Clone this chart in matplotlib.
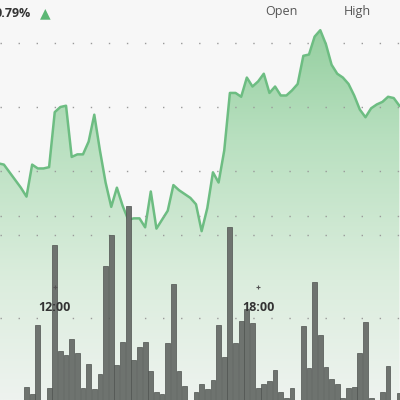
import numpy as np
import matplotlib
matplotlib.use("Agg")
import matplotlib.pyplot as plt
from matplotlib.colors import LinearSegmentedColormap
from matplotlib.patches import PathPatch
from matplotlib.transforms import blended_transform_factory

# ---- data ----
price_start_hour = 10 + 20 / 60      # first price point 10:20, 10-minute steps
price = [100.56, 100.55, 100.49, 100.43, 100.37, 100.30, 100.55, 100.52, 100.52, 100.53,
         100.96, 101.00, 101.01, 100.61, 100.63, 100.63, 100.73, 100.94, 100.66, 100.41,
         100.22, 100.37, 100.23, 100.12, 100.13, 100.13, 100.06, 100.34, 100.05, 100.12,
         100.19, 100.39, 100.35, 100.32, 100.29, 100.24, 100.03, 100.21, 100.49, 100.41,
         100.66, 101.11, 101.11, 101.08, 101.23, 101.16, 101.20, 101.26, 101.11, 101.16,
         101.09, 101.09, 101.13, 101.18, 101.40, 101.41, 101.55, 101.60, 101.49, 101.33,
         101.26, 101.23, 101.18, 101.09, 100.98, 100.92, 100.99, 101.02, 101.04, 101.08,
         101.07, 101.01]
vol_start_hour = 11 + 10 / 60        # first volume bar 11:10, 10-minute steps
volume = [16.2, 12.7, 46.6, 7, 15.7, 85.8, 33.8, 31.9, 39.7, 32.8,
          15.7, 27.5, 15.2, 22.5, 75.5, 90.7, 27.0, 38.2, 104.9, 29.4,
          35.8, 38.2, 24.0, 13.7, 12.7, 37.7, 66.7, 24.0, 16.7, 7,
          13.7, 17.6, 15.2, 19.6, 46.6, 30.9, 94.6, 37.7, 48.5, 54.4,
          47.5, 15.7, 17.6, 19.1, 24.5, 13.7, 10.8, 15.7, 7, 46.1,
          25.5, 67.6, 41.7, 26.0, 20.1, 17.6, 10.8, 15.7, 16.2, 32.8,
          48.0, 10.8, 7, 13.7, 26.5, 7, 13.2]
price_grid = [100.0, 100.5, 101.0, 101.5]
vol_grid = [50, 100]
time_ticks = [12.0, 18.0]
time_labels = ["12:00", "18:00"]
change_text = "0.79%"
header_labels = ["Open", "High"]

t_price = price_start_hour + np.arange(len(price)) / 6
t_vol = vol_start_hour + np.arange(len(volume)) / 6

# ---- figure ----
bg = "#f7f7f7"
fig = plt.figure(figsize=(4, 4), dpi=100, facecolor=bg)
ax = fig.add_axes([0, 0, 1, 1])
ax.set_facecolor(bg)
xmin, xmax = 10.385, 22.185
ylo, yhi = 98.711, 101.836
ax.set_xlim(xmin, xmax)
ax.set_ylim(ylo, yhi)
ax.axis("off")

# gradient area
cmap = LinearSegmentedColormap.from_list(
    "g", [(0.0, "#8ccb98"), (0.35, "#b9e0c0"), (0.7, "#dbeddd"), (1.0, "#eef3ef")])
grad = np.linspace(0, 1, 256).reshape(-1, 1)
im = ax.imshow(grad, cmap=cmap, extent=[xmin, xmax, ylo, yhi], origin="upper",
               aspect="auto", zorder=1, interpolation="bilinear")
poly = ax.fill_between(t_price, price, ylo, color="none", lw=0)
patch = PathPatch(poly.get_paths()[0], transform=ax.transData, facecolor="none", edgecolor="none")
ax.add_patch(patch)
im.set_clip_path(patch)
ax.plot(t_price, price, color="#6dbd82", lw=1.8, zorder=4, solid_joinstyle="round")

for g in price_grid:
    ax.axhline(g, color="#9a9a9a", lw=1.0, ls=(0, (1, 12)), zorder=3)

# volume
ax2 = ax.twinx()
ax2.set_ylim(9.8, 205.9)
ax2.set_xlim(xmin, xmax)
ax2.axis("off")
ax2.patch.set_visible(False)
for g in vol_grid:
    ax2.axhline(g, color="#9a9a9a", lw=1.0, ls=(0, (1, 12)), zorder=1)
ax2.bar(t_vol, volume, width=0.142, color="#6e736f", edgecolor="#4e524f", lw=0.5, zorder=2)

# time labels
tr = blended_transform_factory(ax.transData, ax.transAxes)
for tt, lab in zip(time_ticks, time_labels):
    ax2.text(tt, 1 - 307.5 / 400, lab, transform=tr, ha="center", va="center",
             fontsize=9, fontweight="bold", color="#333333", family="Open Sans", zorder=6)
    ax2.plot([tt], [1 - 287 / 400], transform=tr, marker="+", ms=3, color="#555555",
             mew=0.8, zorder=6)

# header
fig.text(31 / 400, 1 - 17 / 400, change_text, ha="right", va="baseline", fontsize=9,
         fontweight="bold", color="#333333", family="Open Sans")
fig.text(45 / 400, 1 - 13 / 400, "▲", ha="center", va="center", fontsize=10,
         color="#5bb774", family="DejaVu Sans")
fig.text(281 / 400, 1 - 15 / 400, header_labels[0], ha="center", va="baseline",
         fontsize=9, color="#555555", family="Open Sans")
fig.text(357 / 400, 1 - 15 / 400, header_labels[1], ha="center", va="baseline",
         fontsize=9, color="#555555", family="Open Sans")

fig.savefig("out.png", dpi=100, facecolor=bg)
